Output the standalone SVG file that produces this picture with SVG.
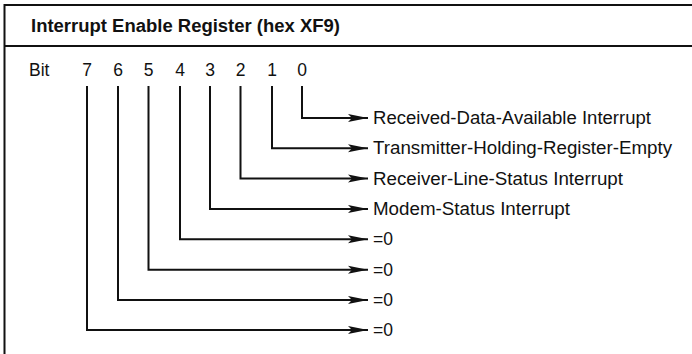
<svg xmlns="http://www.w3.org/2000/svg" width="692" height="354" viewBox="0 0 692 354">
<style>
.frame{fill:none;stroke:#111;stroke-width:2}
.hdr{font-family:"Liberation Sans",Arial,sans-serif;font-weight:bold;font-size:18px;fill:#111}
.t{font-family:"Liberation Sans",Arial,sans-serif;font-size:17.5px;fill:#111}
.d{font-family:"Liberation Sans",Arial,sans-serif;font-size:17.5px;fill:#111;text-anchor:middle}
.c{fill:none;stroke:#111;stroke-width:2;marker-end:url(#ah)}
</style>
<defs>
<marker id="ah" markerUnits="userSpaceOnUse" markerWidth="22" markerHeight="10" refX="20" refY="4.5" orient="auto" viewBox="0 0 22 9">
<path d="M0,0.5 L20,4.5 L0,8.5 L4,4.5 Z" fill="#111"/>
</marker>
</defs>
<g id="frame">
<path class="frame" d="M692,5 H4.5 V354"/>
<line class="frame" x1="4.5" y1="46" x2="692" y2="46"/>
</g>
<g id="header"><text class="hdr" x="31" y="32" textLength="309" lengthAdjust="spacingAndGlyphs">Interrupt Enable Register (hex XF9)</text></g>
<g id="bits">
<text class="t" x="29" y="76">Bit</text>
<text class="d" x="87" y="76">7</text>
<text class="d" x="118" y="76">6</text>
<text class="d" x="148.5" y="76">5</text>
<text class="d" x="180" y="76">4</text>
<text class="d" x="210" y="76">3</text>
<text class="d" x="240.5" y="76">2</text>
<text class="d" x="272" y="76">1</text>
<text class="d" x="302" y="76">0</text>
</g>
<g id="connectors">
<path class="c" d="M302,86 V118 H368"/>
<path class="c" d="M272,86 V148.3 H368"/>
<path class="c" d="M240.5,86 V178.5 H368"/>
<path class="c" d="M210,86 V209 H368"/>
<path class="c" d="M180,86 V239.3 H368"/>
<path class="c" d="M148.5,86 V269.7 H368"/>
<path class="c" d="M118,86 V300 H368"/>
<path class="c" d="M87,86 V330 H368"/>
</g>
<g id="bit0"><text class="t" x="373" y="124" textLength="278" lengthAdjust="spacingAndGlyphs">Received-Data-Available Interrupt</text></g>
<g id="bit1"><text class="t" x="373" y="154.3" textLength="299" lengthAdjust="spacingAndGlyphs">Transmitter-Holding-Register-Empty</text></g>
<g id="bit2"><text class="t" x="373" y="184.5" textLength="250" lengthAdjust="spacingAndGlyphs">Receiver-Line-Status Interrupt</text></g>
<g id="bit3"><text class="t" x="373" y="215" textLength="197" lengthAdjust="spacingAndGlyphs">Modem-Status Interrupt</text></g>
<g id="bit4"><text class="t" x="373" y="245.3">=0</text></g>
<g id="bit5"><text class="t" x="373" y="275.7">=0</text></g>
<g id="bit6"><text class="t" x="373" y="306">=0</text></g>
<g id="bit7"><text class="t" x="373" y="336">=0</text></g>
</svg>
